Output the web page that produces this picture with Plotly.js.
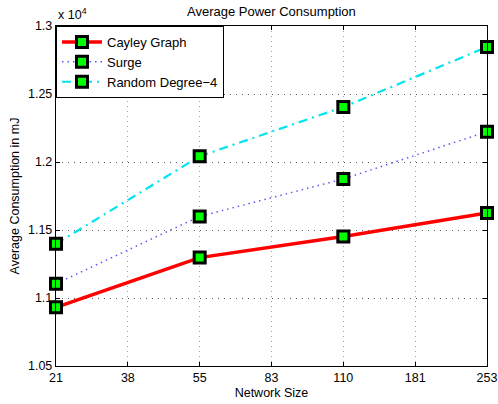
<!DOCTYPE html>
<html>
<head>
<meta charset="utf-8">
<script src="https://cdn.plot.ly/plotly-3.0.1.min.js"></script>
<style>html,body{margin:0;padding:0;background:#fff;}#chart{width:498px;height:404px;}</style>
</head>
<body>
<div id="chart"></div>
<script>
const xTickLabels = [21, 38, 55, 83, 110, 181, 253];
const networkSizes = [21, 55, 110, 253];
const cayley = [10932, 11297, 11452, 11625];
const surge = [11105, 11600, 11875, 12223];
const randomDeg4 = [11398, 12042, 12404, 12846];
const yTickVals = [10500, 11000, 11500, 12000, 12500, 13000];
const yTickText = ['1.05', '1.1', '1.15', '1.2', '1.25', '1.3'];

const xPos = networkSizes.map(s => xTickLabels.indexOf(s));
const font = 'Liberation Sans, Arial, Helvetica, sans-serif';
const marker = {symbol: 'square', size: 11, color: '#00ff00', line: {color: '#000000', width: 3}};

const traces = [
  {x: xPos, y: cayley, name: 'Cayley Graph', mode: 'lines+markers', line: {color: '#ff0000', width: 3.5}, marker: marker, cliponaxis: false},
  {x: xPos, y: surge, name: 'Surge', mode: 'lines+markers', line: {color: '#5a5aff', width: 1.5, dash: '1.5px,4px'}, marker: marker, cliponaxis: false},
  {x: xPos, y: randomDeg4, name: 'Random Degree\u22124', mode: 'lines+markers', line: {color: '#00e5ee', width: 2.2, dash: '9px,5px,2px,5px'}, marker: marker, cliponaxis: false}
];

const layout = {
  width: 498, height: 404,
  margin: {l: 56, r: 11, t: 26, b: 38},
  paper_bgcolor: '#ffffff', plot_bgcolor: '#ffffff',
  font: {family: font, size: 12, color: '#000'},
  title: {text: 'Average Power Consumption', font: {size: 13, family: font}, x: 0.545, xanchor: 'center', y: 0.972, yanchor: 'middle'},
  showlegend: true,
  legend: {x: 0, y: 1, xanchor: 'left', yanchor: 'top', bordercolor: '#000', borderwidth: 1, bgcolor: '#fff', font: {size: 13, family: font}, tracegroupgap: 0, itemwidth: 40},
  xaxis: {
    range: [0, 6], tickmode: 'array', tickvals: xTickLabels.map((v, i) => i), ticktext: xTickLabels.map(String),
    showgrid: true, gridcolor: '#a0a0a0', griddash: '1px,4px', gridwidth: 1,
    showline: true, linecolor: '#000', linewidth: 1.2, mirror: 'ticks',
    ticks: 'inside', ticklen: 4, tickcolor: '#000', zeroline: false,
    tickfont: {size: 12.5, family: font},
    title: {text: 'Network Size', font: {size: 12.5, family: font}, standoff: 4}
  },
  yaxis: {
    range: [10500, 13000], tickmode: 'array', tickvals: yTickVals, ticktext: yTickText,
    showgrid: true, gridcolor: '#606060', griddash: '1px,5px', gridwidth: 1,
    showline: true, linecolor: '#000', linewidth: 1.2, mirror: 'ticks',
    ticks: 'inside', ticklen: 4, tickcolor: '#000', zeroline: false,
    tickfont: {size: 12.5, family: font},
    title: {text: 'Average Consumption in mJ', font: {size: 12.5, family: font}, standoff: 5}
  },
  annotations: [
    {text: 'x 10<sup>4</sup>', xref: 'paper', yref: 'paper', x: 0, y: 1, xanchor: 'left', yanchor: 'bottom', yshift: 2, showarrow: false, font: {size: 12.5, family: font}}
  ]
};

Plotly.newPlot('chart', traces, layout, {staticPlot: true, displayModeBar: false});
</script>
</body>
</html>
